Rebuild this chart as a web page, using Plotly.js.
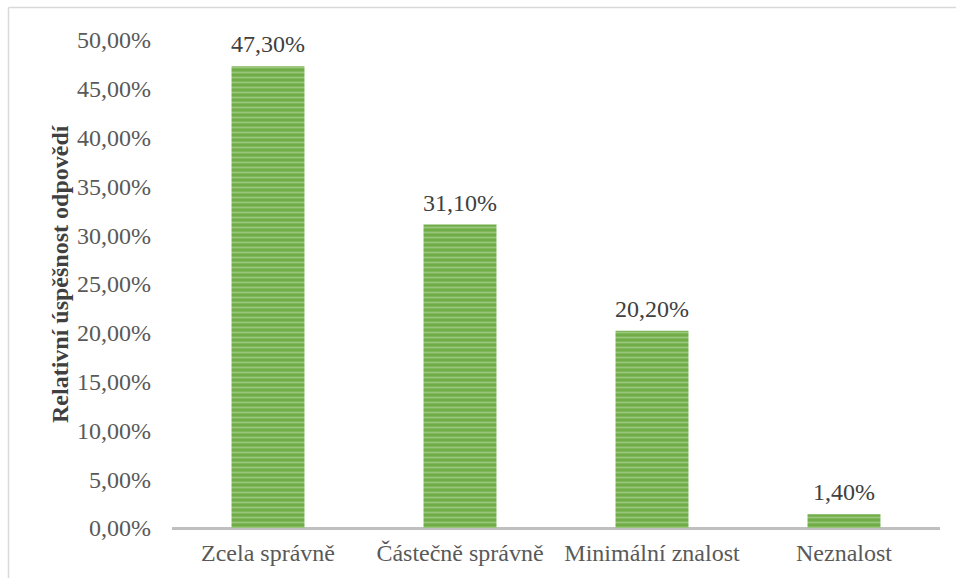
<!DOCTYPE html>
<html>
<head>
<meta charset="utf-8">
<script src="https://cdn.plot.ly/plotly-3.0.1.min.js"></script>
<style>
  html, body { margin: 0; padding: 0; background: #fff; }
  #graf { width: 956px; height: 578px; }
</style>
</head>
<body>
<div id="graf"></div>
<script>
// ---------- Data ----------
const kategorie = ["Zcela správně", "Částečně správně", "Minimální znalost", "Neznalost"];
const hodnoty = [0.473, 0.311, 0.202, 0.014];
const osaY = "Relativní úspěšnost odpovědí";

const pismo = "'Liberation Serif', 'Times New Roman', serif";

// ---------- Sloupce ----------
const sloupce = {
    type: "bar",
    x: kategorie,
    y: hodnoty,
    width: 0.38,
    marker: {
        color: "#70AD47",
        line: { width: 0 },
        pattern: {
            shape: "-",
            fgcolor: "#C5E0B4",
            bgcolor: "#70AD47",
            size: 5,
            solidity: 0.35,
            fillmode: "overlay"
        }
    },
    hoverinfo: "none"
};

// ---------- Popisky hodnot ----------
const popisky = {
    type: "scatter",
    mode: "markers+text",
    x: kategorie,
    y: hodnoty,
    marker: { size: 11, opacity: 0 },
    texttemplate: "%{y:.2%}",
    textposition: "top center",
    cliponaxis: false,
    textfont: { family: pismo, size: 24, color: "#404040" },
    hoverinfo: "none"
};

const layout = {
    width: 956,
    height: 578,
    separators: ", ",
    margin: { l: 172, r: 16, t: 40, b: 50 },
    paper_bgcolor: "#fff",
    plot_bgcolor: "#fff",
    showlegend: false,
    font: { family: pismo, color: "#595959", size: 24 },
    xaxis: {
        showgrid: false,
        zeroline: false,
        showline: false,
        ticks: "",
        tickfont: { family: pismo, size: 24, color: "#595959" },
        ticklabelstandoff: 8
    },
    yaxis: {
        range: [0, 0.5],
        dtick: 0.05,
        tickformat: ".2%",
        showgrid: false,
        zeroline: true,
        zerolinecolor: "#BFBFBF",
        zerolinewidth: 3,
        showline: false,
        ticks: "",
        tickfont: { family: pismo, size: 24, color: "#595959" },
        ticklabelstandoff: 20
    },
    annotations: [
        { text: osaY, xref: "paper", yref: "paper", x: 0, y: 0.5,
          xanchor: "center", yanchor: "middle", xshift: -112, yshift: 10,
          textangle: -90, showarrow: false,
          font: { family: pismo, size: 24, color: "#404040", weight: "bold" } }
    ],
    shapes: [
        { type: "line", xref: "paper", yref: "paper",
          xsizemode: "pixel", ysizemode: "pixel", xanchor: 0, yanchor: 0,
          x0: -163.5, x1: 784, y0: 520.5, y1: 520.5,
          line: { color: "#D9D9D9", width: 1.5 } },
        { type: "line", xref: "paper", yref: "paper",
          xsizemode: "pixel", ysizemode: "pixel", xanchor: 0, yanchor: 0,
          x0: -163.5, x1: -163.5, y0: 520.5, y1: -60,
          line: { color: "#D9D9D9", width: 1.5 } }
    ]
};

Plotly.newPlot("graf", [sloupce, popisky], layout, { displayModeBar: false, staticPlot: true });
</script>
</body>
</html>
